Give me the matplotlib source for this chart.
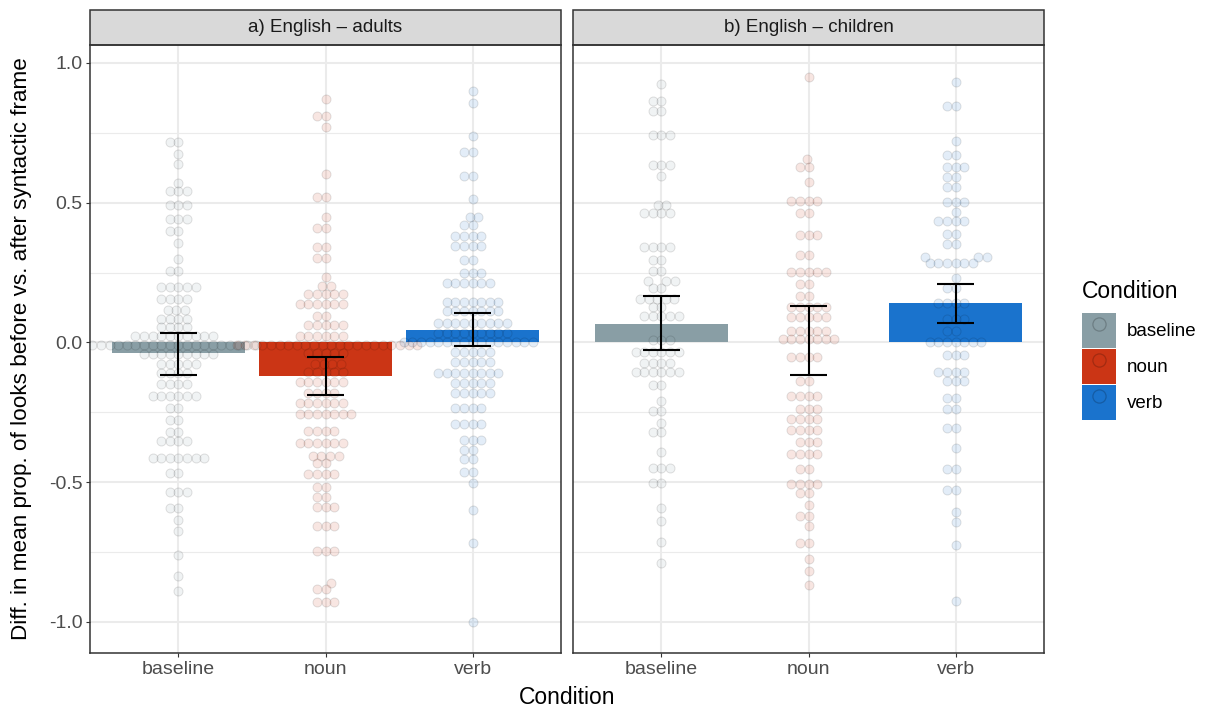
import numpy as np
import matplotlib.pyplot as plt
from matplotlib.patches import Patch, Rectangle
from matplotlib.lines import Line2D

plt.rcParams['font.family'] = ['Liberation Sans', 'DejaVu Sans']

conditions = ['baseline', 'noun', 'verb']
bar_colors = ['#899ea5', '#cb3515', '#1a73cd']
panel_titles = ['a) English \u2013 adults', 'b) English \u2013 children']

# mean and 95% CI per condition
adults_mean = [-0.039, -0.119, 0.045]
adults_lo = [-0.116, -0.188, -0.011]
adults_hi = [0.035, -0.051, 0.106]
children_mean = [0.066, 0.002, 0.140]
children_lo = [-0.026, -0.117, 0.070]
children_hi = [0.165, 0.132, 0.209]

# per-participant differences: value levels and how many dots sit at each
adults_baseline_y = [0.718, 0.673, 0.637, 0.572, 0.540, 0.490, 0.441, 0.400, 0.354, 0.298, 0.257,
                     0.200, 0.157, 0.115, 0.085, 0.054, 0.022, -0.010, -0.041, -0.077, -0.110,
                     -0.150, -0.190, -0.235, -0.277, -0.321, -0.354, -0.414, -0.468, -0.534,
                     -0.593, -0.637, -0.674, -0.760, -0.835, -0.890]
adults_baseline_n = [2, 1, 1, 1, 3, 3, 3, 2, 1, 1, 2, 5, 4, 3, 4, 4, 10, 20, 9, 5, 4, 4, 6, 2, 2,
                     2, 4, 7, 2, 3, 2, 1, 1, 1, 1, 1]
adults_noun_y = [0.870, 0.809, 0.769, 0.604, 0.521, 0.450, 0.411, 0.342, 0.302, 0.233, 0.202,
                 0.174, 0.138, 0.096, 0.064, 0.024, -0.010, -0.039, -0.077, -0.107, -0.141,
                 -0.182, -0.215, -0.256, -0.317, -0.360, -0.405, -0.432, -0.469, -0.516,
                 -0.552, -0.587, -0.656, -0.745, -0.859, -0.883, -0.927]
adults_noun_n = [1, 2, 1, 1, 2, 1, 2, 2, 2, 1, 2, 5, 6, 2, 5, 6, 22, 5, 4, 5, 6, 4, 6, 7, 4, 6,
                 4, 2, 4, 2, 2, 3, 3, 3, 1, 2, 3]
adults_verb_y = [0.901, 0.857, 0.739, 0.683, 0.597, 0.512, 0.449, 0.420, 0.379, 0.345, 0.296,
                 0.249, 0.213, 0.145, 0.114, 0.070, 0.033, 0.000, -0.036, -0.070, -0.110,
                 -0.146, -0.180, -0.234, -0.292, -0.350, -0.385, -0.416, -0.462, -0.502,
                 -0.599, -0.719, -1.001]
adults_verb_n = [1, 1, 1, 2, 2, 1, 2, 2, 4, 4, 2, 3, 6, 7, 7, 9, 9, 16, 5, 5, 8, 5, 5, 4, 4, 3,
                 2, 2, 2, 1, 1, 1, 1]
children_baseline_y = [0.925, 0.865, 0.828, 0.742, 0.635, 0.597, 0.490, 0.462, 0.341, 0.294,
                       0.255, 0.221, 0.195, 0.155, 0.128, 0.095, 0.009, -0.034, -0.075, -0.107,
                       -0.153, -0.208, -0.244, -0.287, -0.320, -0.392, -0.450, -0.504, -0.591,
                       -0.638, -0.715, -0.788]
children_baseline_n = [1, 2, 2, 3, 3, 1, 2, 4, 4, 2, 2, 3, 2, 5, 2, 5, 3, 6, 4, 6, 2, 1, 2, 1,
                       2, 1, 3, 2, 1, 1, 1, 1]
children_noun_y = [0.951, 0.657, 0.627, 0.573, 0.507, 0.463, 0.385, 0.314, 0.252, 0.208, 0.166,
                   0.128, 0.092, 0.042, 0.011, -0.051, -0.139, -0.191, -0.239, -0.274, -0.314,
                   -0.355, -0.399, -0.454, -0.506, -0.540, -0.583, -0.621, -0.655, -0.716,
                   -0.775, -0.818, -0.866]
children_noun_n = [1, 1, 2, 1, 4, 2, 3, 2, 5, 2, 2, 5, 5, 5, 7, 4, 2, 4, 3, 4, 4, 3, 4, 2, 4, 2,
                   1, 2, 1, 2, 1, 1, 1]
children_verb_y = [0.930, 0.844, 0.722, 0.671, 0.629, 0.592, 0.556, 0.503, 0.467, 0.436, 0.388,
                   0.352, 0.307, 0.283, 0.232, 0.194, 0.140, 0.084, 0.042, 0.003, -0.045,
                   -0.104, -0.137, -0.200, -0.238, -0.306, -0.377, -0.451, -0.528, -0.606,
                   -0.642, -0.726, -0.926]
children_verb_n = [1, 2, 1, 2, 3, 2, 2, 3, 1, 4, 2, 2, 3, 6, 1, 2, 4, 3, 2, 7, 3, 4, 3, 2, 2, 2,
                   1, 2, 2, 1, 1, 1, 1]

adults_pts = [np.repeat(adults_baseline_y, adults_baseline_n),
              np.repeat(adults_noun_y, adults_noun_n),
              np.repeat(adults_verb_y, adults_verb_n)]
children_pts = [np.repeat(children_baseline_y, children_baseline_n),
                np.repeat(children_noun_y, children_noun_n),
                np.repeat(children_verb_y, children_verb_n)]

W, H = 1205, 708
ylim = (-1.111, 1.064)
xlim = (0.4, 3.6)
panel_px = (471, 608)
px_x = panel_px[0] / (xlim[1] - xlim[0])
px_y = panel_px[1] / (ylim[1] - ylim[0])
dot_gap = 8.6  # px between dot centres


def swarm(vals):
    # simple beeswarm: place points bottom-up, as close to the centre as possible
    ys = np.asarray(vals) * px_y
    order = np.argsort(ys, kind='stable')
    px, py = [], []
    off = np.zeros(len(ys))
    for i in order:
        y = ys[i]
        cands = [0.0]
        near = [(a, b) for a, b in zip(px, py) if abs(y - b) < dot_gap]
        for a, b in near:
            dx = np.sqrt(dot_gap ** 2 - (y - b) ** 2)
            cands += [a - dx, a + dx]
        cands.sort(key=lambda c: (round(abs(c), 6), c))
        for c in cands:
            if all((c - a) ** 2 + (y - b) ** 2 >= dot_gap ** 2 - 1e-6 for a, b in near):
                off[i] = c
                break
        px.append(off[i])
        py.append(y)
    return off / px_x


def rgba(hexcol, a):
    h = hexcol.lstrip('#')
    return tuple(int(h[k:k + 2], 16) / 255 for k in (0, 2, 4)) + (a,)


fig = plt.figure(figsize=(W / 100, H / 100), dpi=100)
lefts = [90, 573]
data = [(adults_pts, adults_mean, adults_lo, adults_hi),
        (children_pts, children_mean, children_lo, children_hi)]
xpos = np.arange(1, 4)

for k, (pts, mean, lo, hi) in enumerate(data):
    ax = fig.add_axes([lefts[k] / W, 1 - 653 / H, panel_px[0] / W, panel_px[1] / H])
    ax.set_xlim(*xlim)
    ax.set_ylim(*ylim)
    ax.set_yticks([-1.0, -0.5, 0.0, 0.5, 1.0])
    ax.set_yticks([-0.75, -0.25, 0.25, 0.75], minor=True)
    ax.set_xticks(xpos)
    ax.set_xticklabels(conditions)
    ax.grid(True, which='major', color='#ebebeb', lw=1.5, zorder=0)
    ax.grid(True, which='minor', axis='y', color='#ebebeb', lw=0.8, zorder=0)
    ax.set_axisbelow(True)
    ax.tick_params(axis='both', which='major', length=3, width=0.8, color='#333333',
                   labelsize=14, labelcolor='#4d4d4d', pad=2.5)
    ax.tick_params(axis='both', which='minor', length=0)
    if k == 0:
        ax.set_yticklabels(['-1.0', '-0.5', '0.0', '0.5', '1.0'])
    else:
        ax.set_yticklabels([])
        ax.tick_params(axis='y', which='major', length=0)
    for s in ax.spines.values():
        s.set_color('#333333')
        s.set_linewidth(1.1)

    ax.bar(xpos, mean, width=0.9, color=bar_colors, zorder=2)
    for j in range(3):
        xs = xpos[j] + swarm(pts[j])
        ax.scatter(xs, pts[j], s=42, facecolors=[rgba(bar_colors[j], 0.12)],
                   edgecolors=[(0, 0, 0, 0.11)], linewidths=0.75, zorder=3)
    ax.vlines(xpos, lo, hi, color='black', lw=1.5, zorder=4)
    ax.hlines(lo, xpos - 0.125, xpos + 0.125, color='black', lw=1.5, zorder=4)
    ax.hlines(hi, xpos - 0.125, xpos + 0.125, color='black', lw=1.5, zorder=4)

    strip_h = 35 / panel_px[1]
    ax.add_patch(Rectangle((0, 1), 1, strip_h, transform=ax.transAxes, clip_on=False,
                           facecolor='#d9d9d9', edgecolor='#333333', lw=1.1))
    ax.text(0.5, 1 + strip_h / 2, panel_titles[k], transform=ax.transAxes, ha='center',
            va='center', fontsize=13.5, color='#1a1a1a')

fig.text(567 / W, 1 - 697 / H, 'Condition', ha='center', va='center', fontsize=16.5)
fig.text(22 / W, 1 - 349 / H, 'Diff. in mean prop. of looks before vs. after syntactic frame',
         ha='center', va='center', rotation=90, fontsize=16.2)

handles = [(Patch(facecolor=c, edgecolor='none'),
            Line2D([], [], marker='o', ls='none', ms=9.5, mfc=rgba(c, 0.12),
                   mec=(0, 0, 0, 0.2), mew=0.9)) for c in bar_colors]
leg = fig.legend(handles, conditions, loc='upper left', bbox_to_anchor=(1065 / W, 1 - 263 / H),
                 frameon=False, fontsize=13.5, title='Condition', title_fontsize=16.5,
                 handlelength=1.8, handleheight=2.5, labelspacing=0.05, handletextpad=0.6,
                 alignment='left')
leg._legend_box.sep = 7

fig.savefig('out.png', dpi=100)
